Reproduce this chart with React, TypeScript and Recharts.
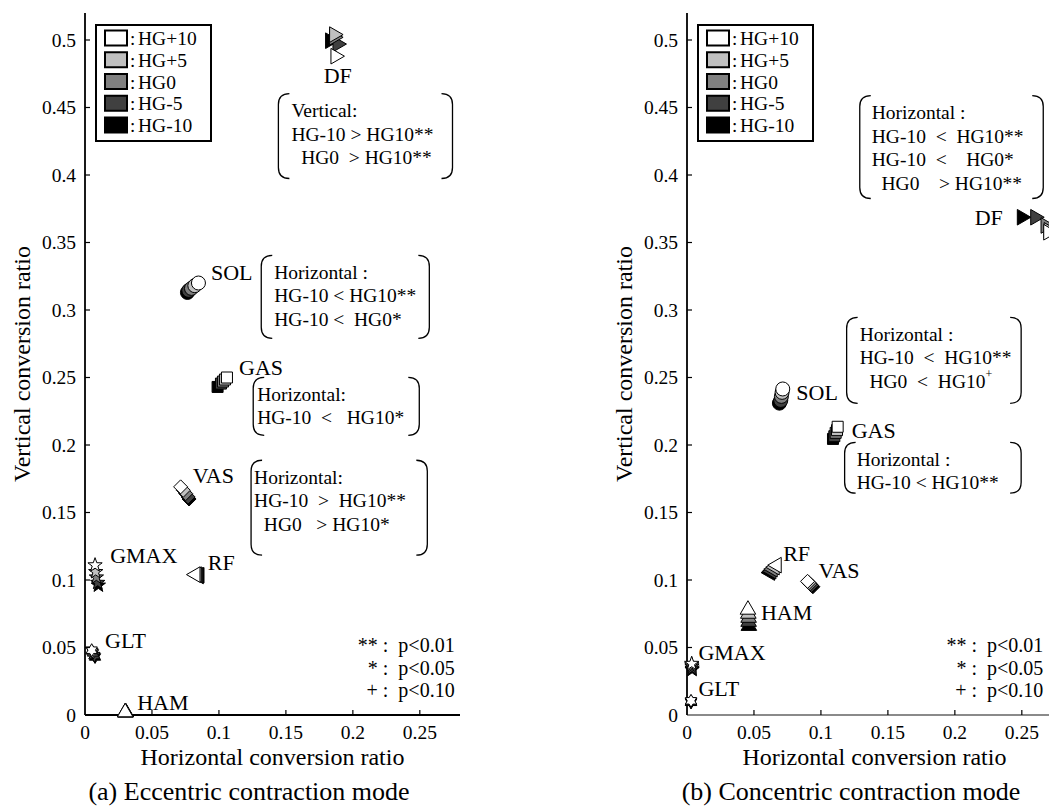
import React from "react";
import { ScatterChart, Scatter, XAxis, YAxis, ReferenceArea, Legend } from "recharts";

// groups, in legend order
const levels = ["HG+10", "HG+5", "HG0", "HG-5", "HG-10"];
const levelFills = ["#ffffff", "#c0c0c0", "#808080", "#404040", "#000000"];

const muscles = ["DF", "SOL", "GAS", "VAS", "RF", "GMAX", "GLT", "HAM"];
const markerKinds = ["triR", "circle", "square", "diamond", "triL", "star5", "star6", "triU"];

const xTicks = [0, 0.05, 0.1, 0.15, 0.2, 0.25];
const yTicks = [0, 0.05, 0.1, 0.15, 0.2, 0.25, 0.3, 0.35, 0.4, 0.45, 0.5];

// (a) eccentric, [horizontal, vertical] in muscles order
const eccHGp10 = [[0.187, 0.488], [0.0847, 0.32], [0.106, 0.25], [0.0714, 0.169], [0.0825, 0.104], [0.0075, 0.111], [0.005, 0.048], [0.03, 0.002]];
const eccHGp5 = [[0.186, 0.504], [0.082, 0.318], [0.1045, 0.2485], [0.0734, 0.1665], [0.0835, 0.104], [0.008, 0.106], [0.0055, 0.047], [0.03, 0.002]];
const eccHG0 = [[0.186, 0.502], [0.0795, 0.316], [0.103, 0.247], [0.0752, 0.164], [0.0845, 0.1035], [0.0085, 0.102], [0.006, 0.046], [0.0302, 0.002]];
const eccHGm5 = [[0.1885, 0.497], [0.0775, 0.3145], [0.1015, 0.2455], [0.077, 0.1615], [0.085, 0.103], [0.0095, 0.098], [0.007, 0.044], [0.0303, 0.002]];
const eccHGm10 = [[0.183, 0.4995], [0.0765, 0.313], [0.099, 0.243], [0.0777, 0.16], [0.0855, 0.1035], [0.01, 0.096], [0.0075, 0.043], [0.0305, 0.002]];

// (b) concentric
const conHGp10 = [[0.2697, 0.3576], [0.0715, 0.2415], [0.1125, 0.2135], [0.09, 0.099], [0.067, 0.111], [0.0035, 0.038], [0.003, 0.0105], [0.0455, 0.078]];
const conHGp5 = [[0.27, 0.359], [0.071, 0.239], [0.112, 0.211], [0.091, 0.098], [0.0655, 0.1095], [0.0036, 0.037], [0.003, 0.01], [0.0458, 0.075]];
const conHG0 = [[0.2677, 0.3626], [0.0705, 0.236], [0.111, 0.209], [0.092, 0.097], [0.064, 0.108], [0.0037, 0.036], [0.003, 0.0098], [0.046, 0.072]];
const conHGm5 = [[0.26, 0.3687], [0.07, 0.233], [0.11, 0.2065], [0.093, 0.096], [0.063, 0.1065], [0.0038, 0.0345], [0.003, 0.0096], [0.046, 0.069]];
const conHGm10 = [[0.25, 0.3687], [0.069, 0.231], [0.109, 0.2045], [0.094, 0.095], [0.062, 0.1055], [0.0038, 0.0335], [0.003, 0.0094], [0.0462, 0.066]];

// where the muscle names sit (data coords, text starts there)
const eccLabelPos = [[0.1782, 0.4736], [0.094, 0.3278], [0.115, 0.2575], [0.0805, 0.1776], [0.0917, 0.1132], [0.0188, 0.1184], [0.015, 0.0555], [0.039, 0.0089]];
const conLabelPos = [[0.2148, 0.3685], [0.0816, 0.239], [0.123, 0.211], [0.0981, 0.1073], [0.0718, 0.1199], [0.0085, 0.0466], [0.0085, 0.02], [0.0552, 0.0762]];

const statLines = ["** :  p<0.01", "* :  p<0.05", "+ :  p<0.10"];
const statY = [0.0518, 0.0348, 0.0185];

const eccNotes = [
  { x1: 0.1444, x2: 0.2744, y1: 0.3974, y2: 0.4603, pad: 13, lines: ["Vertical:", "HG-10 > HG10**", "  HG0  > HG10**"] },
  { x1: 0.1316, x2: 0.2571, y1: 0.279, y2: 0.3404, pad: 13, lines: ["Horizontal :", "HG-10 < HG10**", "HG-10 <  HG0*"] },
  { x1: 0.1256, x2: 0.2496, y1: 0.2072, y2: 0.2501, pad: 4, lines: ["Horizontal:", "HG-10  <   HG10*"] },
  { x1: 0.124, x2: 0.2556, y1: 0.1184, y2: 0.1887, pad: 3, lines: ["Horizontal:", "HG-10  >  HG10**", "  HG0   > HG10*"] },
];
const conNotes = [
  { x1: 0.129, x2: 0.266, y1: 0.3826, y2: 0.4588, pad: 12, lines: ["Horizontal :", "HG-10  <  HG10**", "HG-10  <    HG0*", "  HG0    > HG10**"] },
  { x1: 0.1192, x2: 0.2495, y1: 0.2309, y2: 0.2945, pad: 13, lines: ["Horizontal :", "HG-10  <  HG10**", "  HG0  <  HG10^+"] },
  { x1: 0.1177, x2: 0.2495, y1: 0.1643, y2: 0.202, pad: 12, lines: ["Horizontal :", "HG-10 < HG10**"] },
];

const FONT = "'Liberation Serif', 'Times New Roman', serif";
const W = 480;
const H = 809;
const PLOT_L = 85;
const PLOT_T = 13;
const PLOT_R = 460;
const PLOT_B = 715;
const Y_AXIS_W = 60;
const X_AXIS_H = 30;

const fmt = (v: number) => String(Number(v.toFixed(2)));

function markerPath(kind: string, cx: number, cy: number) {
  const k = 0.866;
  switch (kind) {
    case "triR": {
      const r = 9;
      return `M${cx + r},${cy} L${cx - r / 2},${cy - r * k} L${cx - r / 2},${cy + r * k} Z`;
    }
    case "triL": {
      const r = 9;
      return `M${cx - r},${cy} L${cx + r / 2},${cy - r * k} L${cx + r / 2},${cy + r * k} Z`;
    }
    case "triU": {
      const r = 9;
      return `M${cx},${cy - r} L${cx + r * k},${cy + r / 2} L${cx - r * k},${cy + r / 2} Z`;
    }
    case "square": {
      const s = 5.5;
      return `M${cx - s},${cy - s} h${2 * s} v${2 * s} h${-2 * s} Z`;
    }
    case "diamond": {
      const s = 7;
      return `M${cx},${cy - s} L${cx + s},${cy} L${cx},${cy + s} L${cx - s},${cy} Z`;
    }
    case "star5":
    case "star6": {
      const n = kind === "star5" ? 5 : 6;
      const ro = kind === "star5" ? 7.5 : 6.5;
      const ri = kind === "star5" ? 3 : 3.75;
      let d = "";
      for (let i = 0; i < n * 2; i++) {
        const a = -Math.PI / 2 + (i * Math.PI) / n;
        const r = i % 2 === 0 ? ro : ri;
        d += `${i === 0 ? "M" : "L"}${cx + r * Math.cos(a)},${cy + r * Math.sin(a)} `;
      }
      return d + "Z";
    }
    default:
      return "";
  }
}

const makeShape = (fill: string) => (props: any) => {
  const { cx, cy, payload } = props;
  if (payload.kind === "circle") {
    return <circle cx={cx} cy={cy} r={7} fill={fill} stroke="#000" strokeWidth={1} />;
  }
  return <path d={markerPath(payload.kind, cx, cy)} fill={fill} stroke="#000" strokeWidth={1} />;
};

const NameMark = (props: any) => {
  const { cx, cy, payload } = props;
  return (
    <text x={cx} y={cy} dominantBaseline="central" fontSize={22} fontFamily={FONT} fill="#000">
      {payload.text}
    </text>
  );
};

const StatMark = (props: any) => {
  const { cx, cy, payload } = props;
  return (
    <text x={cx} y={cy} dominantBaseline="central" textAnchor="end" fontSize={20} fontFamily={FONT} fill="#000" xmlSpace="preserve" style={{ whiteSpace: "pre" }}>
      {payload.text}
    </text>
  );
};

const Bracket = (props: any) => {
  const { x, y, width, height, note } = props;
  const r = 11;
  const rx = x + width;
  const left = `M${x + r},${y} Q${x},${y} ${x},${y + r} L${x},${y + height - r} Q${x},${y + height} ${x + r},${y + height}`;
  const right = `M${rx - r},${y} Q${rx},${y} ${rx},${y + r} L${rx},${y + height - r} Q${rx},${y + height} ${rx - r},${y + height}`;
  return (
    <g>
      <path d={left} fill="none" stroke="#000" strokeWidth={1.3} />
      <path d={right} fill="none" stroke="#000" strokeWidth={1.3} />
      {note.lines.map((ln: string, i: number) => {
        const [main, sup] = ln.split("^");
        return (
          <text
            key={i}
            x={x + note.pad}
            y={y + 17 + i * 23.5}
            dominantBaseline="central"
            fontSize={19.5}
            fontFamily={FONT}
            fill="#000"
            xmlSpace="preserve"
            style={{ whiteSpace: "pre" }}
          >
            {main}
            {sup && (
              <tspan dy={-7} fontSize={12}>
                {sup}
              </tspan>
            )}
          </text>
        );
      })}
    </g>
  );
};

const BottomTick = ({ x, payload }: any) => (
  <g>
    {payload.value > 0 && <line x1={x} x2={x} y1={PLOT_B} y2={PLOT_B - 5} stroke="#000" strokeWidth={1.2} />}
    <text x={x} y={PLOT_B + 17} textAnchor="middle" dominantBaseline="central" fontSize={19.5} fontFamily={FONT} fill="#000">
      {fmt(payload.value)}
    </text>
  </g>
);

const LeftTick = ({ y, payload }: any) => (
  <g>
    {payload.value > 0 && <line x1={PLOT_L} x2={PLOT_L + 5} y1={y} y2={y} stroke="#000" strokeWidth={1.2} />}
    <text x={PLOT_L - 9} y={y} textAnchor="end" dominantBaseline="central" fontSize={19.5} fontFamily={FONT} fill="#000">
      {fmt(payload.value)}
    </text>
  </g>
);

const TopTick = ({ x, payload }: any) =>
  payload.value > 0 ? <line x1={x} x2={x} y1={PLOT_T} y2={PLOT_T + 5} stroke="#000" strokeWidth={1.2} /> : <g />;

const RightTick = ({ y, payload }: any) =>
  payload.value > 0 ? <line x1={PLOT_R} x2={PLOT_R - 5} y1={y} y2={y} stroke="#000" strokeWidth={1.2} /> : <g />;

const XTitle = () => (
  <text x={(PLOT_L + PLOT_R) / 2} y={757} textAnchor="middle" dominantBaseline="central" fontSize={24} fontFamily={FONT} fill="#000">
    Horizontal conversion ratio
  </text>
);

const YTitle = () => {
  const cy = (PLOT_T + PLOT_B) / 2;
  return (
    <text x={22} y={cy} transform={`rotate(-90, 22, ${cy})`} textAnchor="middle" dominantBaseline="central" fontSize={24} fontFamily={FONT} fill="#000">
      Vertical conversion ratio
    </text>
  );
};

const LegendBox = () => (
  <svg width={117} height={118} style={{ display: "block" }}>
    <rect x={1} y={1} width={115} height={116} fill="#fff" stroke="#000" strokeWidth={2} />
    {levels.map((lv, i) => (
      <g key={lv}>
        <rect x={10} y={6.5 + i * 21.75} width={22} height={15} fill={levelFills[i]} stroke="#000" strokeWidth={2} />
        <text x={35} y={14.5 + i * 21.75} dominantBaseline="central" fontSize={19} fontFamily={FONT} fill="#000">
          {":"}
        </text>
        <text x={43} y={14.5 + i * 21.75} dominantBaseline="central" fontSize={19.5} fontFamily={FONT} fill="#000">
          {lv}
        </text>
      </g>
    ))}
  </svg>
);

const toPoints = (pairs: number[][]) =>
  pairs.map(([x, y], i) => ({ x, y, kind: markerKinds[i], muscle: muscles[i] }));

interface PanelProps {
  series: number[][][];
  labelPos: number[][];
  notes: typeof eccNotes;
  statX: number;
  xAxisColor: string;
}

function Panel({ series, labelPos, notes, statX, xAxisColor }: PanelProps) {
  const names = labelPos.map(([x, y], i) => ({ x, y, text: muscles[i] }));
  const stats = statLines.map((text, i) => ({ x: statX, y: statY[i], text }));
  return (
    <ScatterChart
      width={W}
      height={H}
      margin={{ top: PLOT_T, left: PLOT_L - Y_AXIS_W, right: W - PLOT_R, bottom: H - PLOT_B - X_AXIS_H }}
      style={{ fontFamily: FONT }}
    >
      <XAxis
        type="number"
        dataKey="x"
        domain={[0, 0.28]}
        ticks={xTicks}
        interval={0}
        height={X_AXIS_H}
        tickLine={false}
        tick={<BottomTick />}
        axisLine={{ stroke: xAxisColor, strokeWidth: 1.8 }}
        label={<XTitle />}
      />
      <YAxis
        type="number"
        dataKey="y"
        domain={[0, 0.52]}
        ticks={yTicks}
        interval={0}
        width={Y_AXIS_W}
        tickLine={false}
        tick={<LeftTick />}
        axisLine={{ stroke: "#000", strokeWidth: 1.8 }}
        label={<YTitle />}
      />
      <XAxis
        xAxisId="top"
        orientation="top"
        type="number"
        domain={[0, 0.28]}
        allowDataOverflow
        ticks={xTicks}
        interval={0}
        height={0}
        tickLine={false}
        tick={<TopTick />}
        axisLine={{ stroke: "#000", strokeWidth: 1.5 }}
      />
      <YAxis
        yAxisId="right"
        orientation="right"
        type="number"
        domain={[0, 0.52]}
        allowDataOverflow
        ticks={yTicks}
        interval={0}
        width={0}
        tickLine={false}
        tick={<RightTick />}
        axisLine={{ stroke: "#000", strokeWidth: 1.5 }}
      />
      <Legend
        layout="vertical"
        align="center"
        verticalAlign="middle"
        content={() => <LegendBox />}
        wrapperStyle={{ left: 95, top: 24, width: "auto", height: "auto" }}
      />
      {notes.map((note, i) => (
        <ReferenceArea
          key={i}
          x1={note.x1}
          x2={note.x2}
          y1={note.y1}
          y2={note.y2}
          ifOverflow="visible"
          shape={(p: any) => <Bracket {...p} note={note} />}
        />
      ))}
      {[4, 3, 2, 1, 0].map((li) => (
        <Scatter
          key={levels[li]}
          name={levels[li]}
          data={toPoints(series[li])}
          fill={levelFills[li]}
          shape={makeShape(levelFills[li])}
          isAnimationActive={false}
        />
      ))}
      <Scatter name="names" data={names} shape={NameMark} legendType="none" isAnimationActive={false} />
      <Scatter name="stats" data={stats} shape={StatMark} legendType="none" isAnimationActive={false} />
    </ScatterChart>
  );
}

const captionStyle: React.CSSProperties = {
  position: "absolute",
  top: 778,
  width: 420,
  textAlign: "center",
  fontFamily: FONT,
  fontSize: 26,
  lineHeight: "28px",
  color: "#000",
  whiteSpace: "nowrap",
};

export default function App() {
  return (
    <div style={{ position: "absolute", left: 0, top: 0, width: 1049, height: 809, overflow: "hidden", background: "#fff" }}>
      <div style={{ position: "absolute", left: 0, top: 0 }}>
        <Panel
          series={[eccHGp10, eccHGp5, eccHG0, eccHGm5, eccHGm10]}
          labelPos={eccLabelPos}
          notes={eccNotes}
          statX={0.276}
          xAxisColor="#000"
        />
      </div>
      <div style={{ position: "absolute", left: 602, top: 0 }}>
        <Panel
          series={[conHGp10, conHGp5, conHG0, conHGm5, conHGm10]}
          labelPos={conLabelPos}
          notes={conNotes}
          statX={0.266}
          xAxisColor="#8a8a8a"
        />
      </div>
      <div style={{ ...captionStyle, left: 249 - 210 }}>(a) Eccentric contraction mode</div>
      <div style={{ ...captionStyle, left: 851 - 210 }}>(b) Concentric contraction mode</div>
    </div>
  );
}
